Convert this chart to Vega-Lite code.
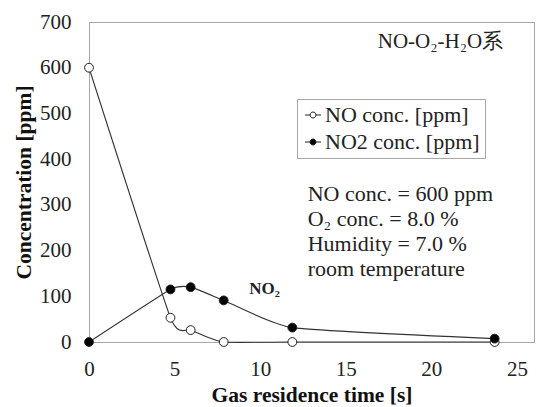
{
  "$schema": "https://vega.github.io/schema/vega-lite/v6.json",
  "width": 445,
  "height": 320,
  "autosize": "none",
  "padding": {"left": 89, "top": 22, "right": 20, "bottom": 65},
  "background": "white",
  "config": {
    "view": {"stroke": "#a6a6a6", "strokeWidth": 1},
    "axis": {
      "domain": false, "ticks": false, "grid": false, "labelFlush": false,
      "labelFont": "Liberation Serif", "labelFontSize": 21, "labelColor": "#222",
      "titleFont": "Liberation Serif", "titleFontSize": 21.5, "titleFontWeight": "bold", "titleColor": "#111"
    }
  },
  "datasets": {
    "series": [
      {"t": 0, "c": 600, "s": "NO conc. [ppm]"},
      {"t": 4.76, "c": 53, "s": "NO conc. [ppm]"},
      {"t": 5.94, "c": 26, "s": "NO conc. [ppm]"},
      {"t": 7.87, "c": 0, "s": "NO conc. [ppm]"},
      {"t": 11.88, "c": 0, "s": "NO conc. [ppm]"},
      {"t": 23.7, "c": 0, "s": "NO conc. [ppm]"},
      {"t": 0, "c": 0, "s": "NO2 conc. [ppm]"},
      {"t": 4.76, "c": 115, "s": "NO2 conc. [ppm]"},
      {"t": 5.94, "c": 120, "s": "NO2 conc. [ppm]"},
      {"t": 7.87, "c": 91, "s": "NO2 conc. [ppm]"},
      {"t": 11.88, "c": 31.5, "s": "NO2 conc. [ppm]"},
      {"t": 23.7, "c": 7.4, "s": "NO2 conc. [ppm]"}
    ],
    "notes": [
      {"t": 12.78, "c": 324.6, "label": "NO conc. = 600 ppm"},
      {"t": 12.78, "c": 270, "label": "O₂ conc. = 8.0 %"},
      {"t": 12.78, "c": 215, "label": "Humidity = 7.0 %"},
      {"t": 12.78, "c": 160.5, "label": "room temperature"}
    ],
    "system": [
      {"t": 24.2, "c": 656, "label": "NO-O₂-H₂O系"}
    ],
    "tag": [
      {"t": 10.25, "c": 117, "label": "NO₂"}
    ]
  },
  "layer": [
    {
      "data": {"name": "series"},
      "mark": {"type": "line", "interpolate": "cardinal", "tension": 0.55, "color": "#333", "strokeWidth": 1.1},
      "encoding": {
        "x": {"field": "t", "type": "quantitative", "scale": {"domain": [0, 25]},
              "axis": {"values": [0, 5, 10, 15, 20, 25], "title": "Gas residence time [s]", "labelPadding": 16, "titlePadding": 5}},
        "y": {"field": "c", "type": "quantitative", "scale": {"domain": [0, 700]},
              "axis": {"values": [0, 100, 200, 300, 400, 500, 600, 700], "title": "Concentration [ppm]", "labelPadding": 18, "titlePadding": 4}},
        "detail": {"field": "s"}
      }
    },
    {
      "data": {"name": "series"},
      "mark": {"type": "point", "shape": "circle", "filled": true, "size": 78, "stroke": "#222", "strokeWidth": 1, "opacity": 1},
      "encoding": {
        "x": {"field": "t", "type": "quantitative"},
        "y": {"field": "c", "type": "quantitative"},
        "fill": {"field": "s", "type": "nominal",
                 "scale": {"domain": ["NO conc. [ppm]", "NO2 conc. [ppm]"], "range": ["white", "black"]},
                 "legend": {
                   "title": null, "orient": "none", "legendX": 208, "legendY": 77,
                   "strokeColor": "#a6a6a6", "fillColor": "white", "padding": 5, "rowPadding": 5,
                   "symbolType": "M-1,0H-0.375M0.375,0H1M-0.375,0A0.375,0.375,0,1,1,0.375,0A0.375,0.375,0,1,1,-0.375,0Z",
                   "symbolSize": 256, "symbolStrokeColor": "#222", "symbolStrokeWidth": 1, "symbolOffset": 0,
                   "labelFont": "Liberation Serif", "labelFontSize": 22, "labelColor": "#222", "labelOffset": 1
                 }}
      }
    },
    {
      "data": {"name": "notes"},
      "mark": {"type": "text", "align": "left", "baseline": "middle", "font": "Liberation Serif", "fontSize": 22, "color": "#222"},
      "encoding": {
        "x": {"field": "t", "type": "quantitative"},
        "y": {"field": "c", "type": "quantitative"},
        "text": {"field": "label"}
      }
    },
    {
      "data": {"name": "system"},
      "mark": {"type": "text", "align": "right", "baseline": "middle", "font": "Liberation Serif", "fontSize": 21, "color": "#222"},
      "encoding": {
        "x": {"field": "t", "type": "quantitative"},
        "y": {"field": "c", "type": "quantitative"},
        "text": {"field": "label"}
      }
    },
    {
      "data": {"name": "tag"},
      "mark": {"type": "text", "align": "center", "baseline": "middle", "font": "Liberation Serif", "fontSize": 17, "fontWeight": "bold", "color": "#222"},
      "encoding": {
        "x": {"field": "t", "type": "quantitative"},
        "y": {"field": "c", "type": "quantitative"},
        "text": {"field": "label"}
      }
    }
  ]
}
